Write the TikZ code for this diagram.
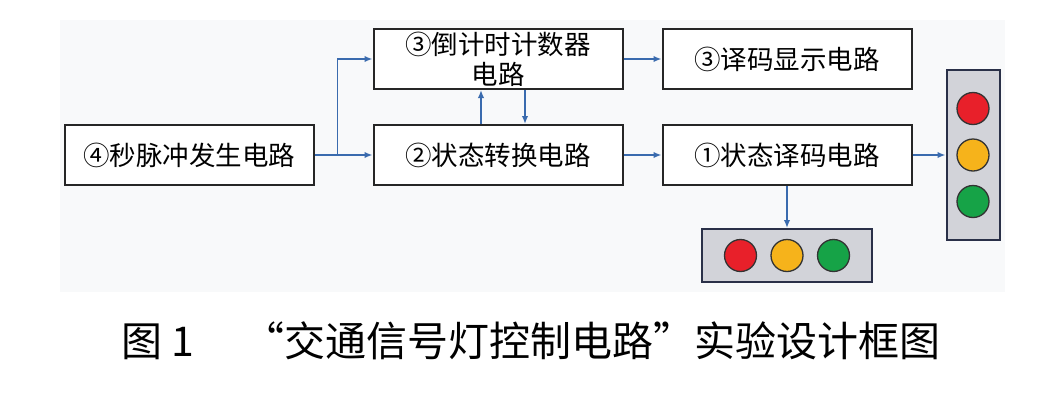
\documentclass[tikz,border=0pt]{standalone}
\usepackage{fontspec}
\setmainfont{Noto Sans CJK SC}
\newfontfamily\captionfont{Noto Sans CJK SC}
\usetikzlibrary{positioning,arrows.meta}

\definecolor{linkblue}{HTML}{3A6BAE}
\definecolor{panelgray}{HTML}{F8F9FA}
\definecolor{housing}{HTML}{D2D3D9}
\definecolor{housingline}{HTML}{2A3048}
\definecolor{lampred}{HTML}{E8202A}
\definecolor{lampamber}{HTML}{F6B31B}
\definecolor{lampgreen}{HTML}{16A347}

\begin{document}
\begin{tikzpicture}[auto,
					line width=2pt,
					block/.style={rectangle,draw=black!85,fill=white,minimum width=249pt,
					              minimum height=60pt,inner sep=0pt,font=\fontsize{26.5}{30}\selectfont,
					              align=center},
					link/.style={draw=linkblue,line width=1.8pt,-{Latex[length=8pt,width=6.5pt]}},
					housing box/.style={rectangle,draw=housingline,fill=housing,inner sep=0pt},
					lamp/.style={circle,draw=black!80,line width=1.3pt,minimum size=32pt,inner sep=0pt}]

  \useasboundingbox (0pt,0pt) rectangle (1042pt,-410pt);
  \fill[panelgray] (60pt,-20pt) rectangle (1005pt,-292pt);

  \node[block] (pulse) at (189pt,-155pt) {④秒脉冲发生电路};
  \node[block] (state) [right=58pt of pulse] {②状态转换电路};
  \node[block] (count) [above=34pt of state] {③倒计时计数器\\电路};
  \node[block] (decode) [right=38pt of state] {①状态译码电路};
  \node[block] (display) [above=34pt of decode] {③译码显示电路};

  % traffic lights
  \node[housing box,minimum width=53pt,minimum height=170pt] (vlight) [right=33pt of decode] {};
  \node[housing box,minimum width=170pt,minimum height=53pt] (hlight) [below=42pt of decode] {};
  \node[lamp,fill=lampred] (vred) at ([yshift=46.5pt]vlight.center) {};
  \node[lamp,fill=lampamber] (vamber) at (vlight.center) {};
  \node[lamp,fill=lampgreen] (vgreen) at ([yshift=-46.5pt]vlight.center) {};
  \node[lamp,fill=lampred] (hred) at ([xshift=-46.5pt]hlight.center) {};
  \node[lamp,fill=lampamber] (hamber) at (hlight.center) {};
  \node[lamp,fill=lampgreen] (hgreen) at ([xshift=46.5pt]hlight.center) {};

  \coordinate (split) at ([xshift=23pt]pulse.east);

  \path[link]
    (pulse.east) -- (state.west);
  \draw[link] (split) |- (count.west);
  \draw[link] ([xshift=-17pt]state.north) -- ([xshift=-17pt]count.south);
  \draw[link] ([xshift=27pt]count.south) -- ([xshift=27pt]state.north);
  \draw[link] (count.east) -- (display.west);
  \draw[link] (state.east) -- (decode.west);
  \draw[link] (decode.east) -- (vlight.west);
  \draw[link] (decode.south) -- (hlight.north);

  \node[font=\captionfont\fontsize{41}{46}\selectfont] (caption) at (531pt,-341pt)
    {图 1\hspace{1.2em}“交通信号灯控制电路”实验设计框图};
\end{tikzpicture}
\end{document}
